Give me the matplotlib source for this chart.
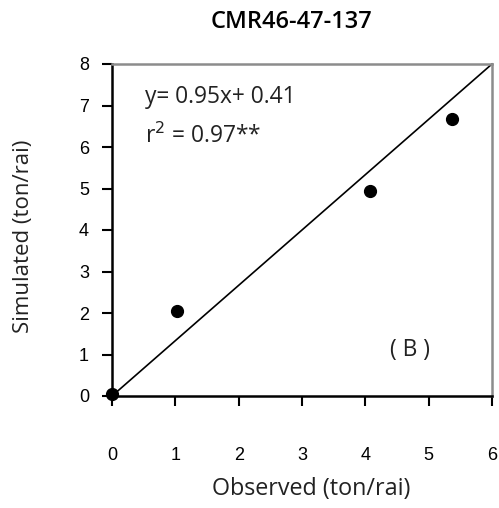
import matplotlib
matplotlib.use("Agg")
import matplotlib.pyplot as plt

observed = [0.0, 1.02, 4.08, 5.37]
simulated = [0.05, 2.05, 4.94, 6.68]
line_x = [0, 6]
line_y = [0, 8]
x_ticks = [0, 1, 2, 3, 4, 5, 6]
y_ticks = [0, 1, 2, 3, 4, 5, 6, 7, 8]

W, H = 499, 508
fig = plt.figure(figsize=(W / 100, H / 100), dpi=100)
ax = fig.add_axes([112 / W, 1 - 396 / H, 380 / W, 332 / H])

ax.plot(line_x, line_y, color="black", lw=1.2, clip_on=False, zorder=2)
ax.plot(observed, simulated, "o", color="black", ms=8.5, clip_on=False, zorder=3)

ax.set_xlim(0, 6)
ax.set_ylim(0, 8)
ax.set_xticks(x_ticks)
ax.set_yticks(y_ticks)
ax.tick_params(axis="both", direction="out", length=7.5, width=1.5, color="black",
               labelsize=13)
ax.tick_params(axis="x", pad=29)
ax.tick_params(axis="y", pad=9)
for lab in ax.get_xticklabels() + ax.get_yticklabels():
    lab.set_fontfamily("Liberation Sans")

for s in ("left", "bottom"):
    ax.spines[s].set_color("black")
    ax.spines[s].set_linewidth(1.8)
for s in ("top", "right"):
    ax.spines[s].set_color("#8c8c8c")
    ax.spines[s].set_linewidth(1.8)

txt_color = "#222222"
ax.text(0.52, 7.2, "y= 0.95x+ 0.41", fontsize=16.4, family="Open Sans",
        color=txt_color, va="center")
ax.text(0.52, 6.25, r"r$^{2}$ = 0.97**", fontsize=16.4, family="Open Sans",
        color=txt_color, va="center")
ax.text(4.7, 1.1, "( B )", fontsize=16.4, family="Open Sans",
        color=txt_color, va="center", ha="center")

fig.text(292 / W, 1 - 22 / H, "CMR46-47-137", fontsize=17, family="Open Sans",
         fontweight="semibold", ha="center", va="center")
fig.text(311 / W, 1 - 489 / H, "Observed (ton/rai)", fontsize=16.8, family="Open Sans",
         color=txt_color, ha="center", va="center")
fig.text(24 / W, 1 - 236 / H, "Simulated (ton/rai)", fontsize=16, family="Open Sans",
         color=txt_color, ha="center", va="center", rotation=90)

fig.savefig("out.png", dpi=100)
